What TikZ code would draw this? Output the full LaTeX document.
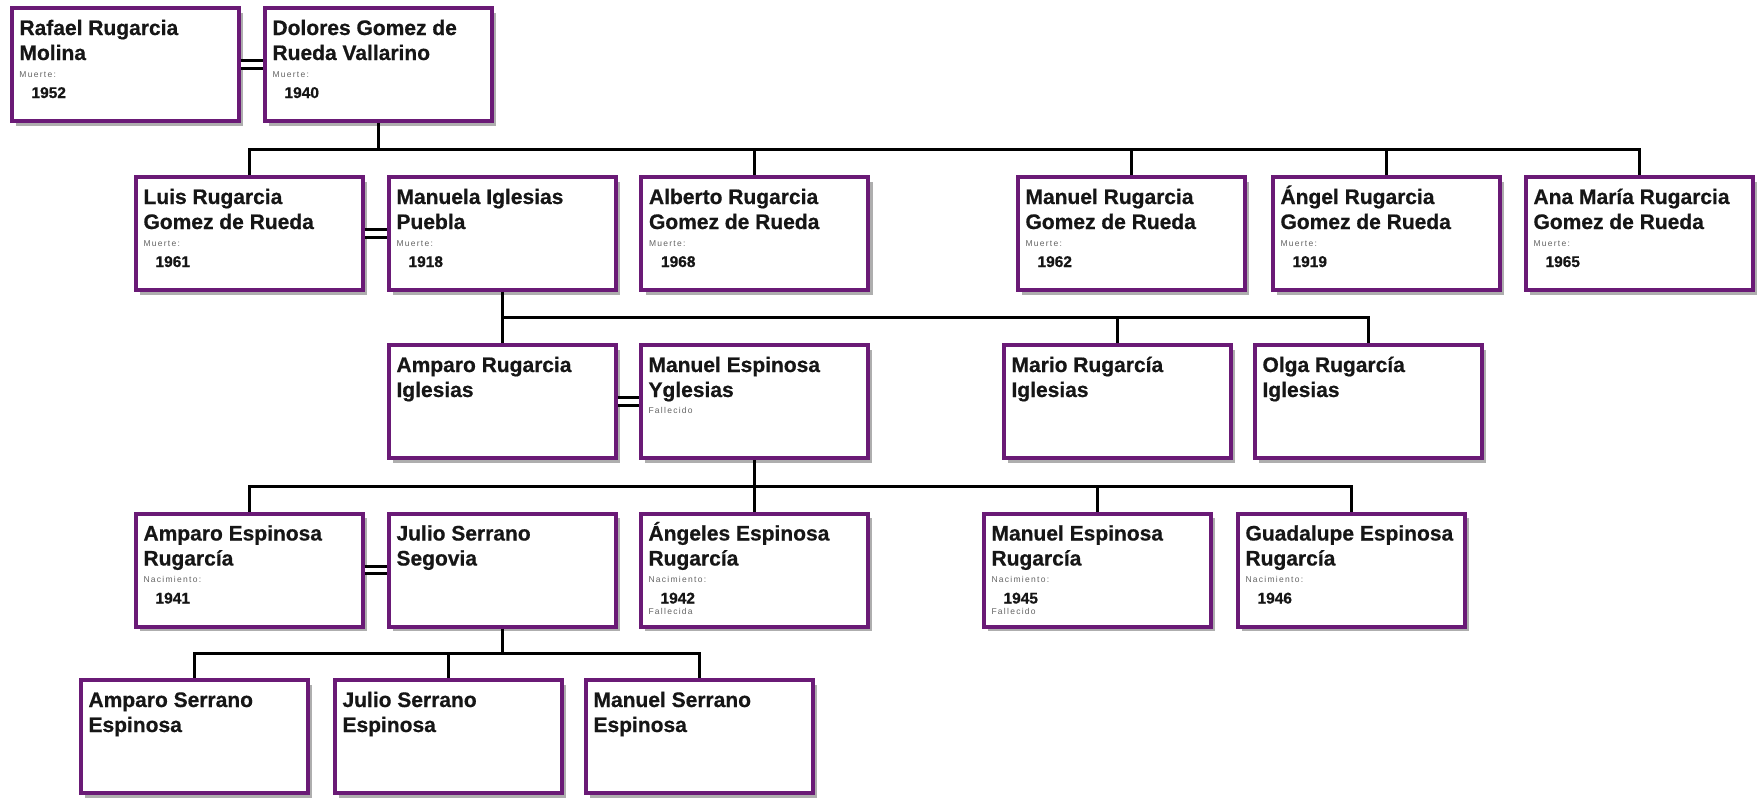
\documentclass[tikz,border=0pt]{standalone}
\usepackage{fontspec}
\setmainfont{Liberation Sans}
\newfontfamily\etiqfont[LetterSpace=15]{Liberation Sans}
\newfontfamily\nombrefont[FakeBold=0.6]{Liberation Sans Bold}
\usepackage{xcolor}
\usetikzlibrary{shadows}

\definecolor{borde}{RGB}{106,26,118}
\definecolor{tinta}{RGB}{22,22,22}
\definecolor{gris}{RGB}{100,100,100}

\newcommand{\nombre}{\nombrefont\fontsize{21}{25}\selectfont\color{tinta}}
\newcommand{\etiq}{\etiqfont\fontsize{8.5}{9}\selectfont\color{gris}}
\newcommand{\anio}{\nombrefont\fontsize{15.5}{17}\selectfont\color{tinta}}
\newcommand{\linea}[1]{\hbox to 211pt{\smash{#1}\hss}}
\newcommand{\ficha}[3]{\vbox to 113pt{\offinterlineskip
    \kern27pt\linea{\nombre #1}\kern25pt\linea{\nombre #2}#3\vss}}
\newcommand{\dato}[2]{\kern17pt\linea{\etiq #1}\kern21pt\linea{\hspace{12pt}\anio #2}}
\newcommand{\fallec}[2]{\kern#1\linea{\etiq #2}}

\begin{document}
\begin{tikzpicture}[x=1pt, y=-1pt,
    persona/.style={draw=borde, line width=4pt, fill=white, minimum width=227pt, minimum height=113pt,
        inner xsep=8pt, inner ysep=0pt,
        drop shadow={shadow xshift=4.5pt, shadow yshift=-4.5pt, fill=black!45, opacity=0.7}},
    enlace/.style={line width=3pt, black},
    pareja/.style={double, line width=3.2pt, double distance=4.5pt, black}
]
\path[use as bounding box, fill=white] (0,0) rectangle (1758,798);

\node[persona] (rafael) at (125,64.5) {\ficha{Rafael Rugarcia}{Molina}{\dato{Muerte:}{1952}}};
\node[persona] (dolores) at (378,64.5) {\ficha{Dolores Gomez de}{Rueda Vallarino}{\dato{Muerte:}{1940}}};

\node[persona] (luis) at (249,233.5) {\ficha{Luis Rugarcia}{Gomez de Rueda}{\dato{Muerte:}{1961}}};
\node[persona] (manuela) at (502,233.5) {\ficha{Manuela Iglesias}{Puebla}{\dato{Muerte:}{1918}}};
\node[persona] (alberto) at (754.5,233.5) {\ficha{Alberto Rugarcia}{Gomez de Rueda}{\dato{Muerte:}{1968}}};
\node[persona] (manuel) at (1131,233.5) {\ficha{Manuel Rugarcia}{Gomez de Rueda}{\dato{Muerte:}{1962}}};
\node[persona] (angel) at (1386,233.5) {\ficha{Ángel Rugarcia}{Gomez de Rueda}{\dato{Muerte:}{1919}}};
\node[persona] (anamaria) at (1639,233.5) {\ficha{Ana María Rugarcia}{Gomez de Rueda}{\dato{Muerte:}{1965}}};

\node[persona] (amparo) at (502,401.5) {\ficha{Amparo Rugarcia}{Iglesias}{}};
\node[persona] (espinosa) at (754,401.5) {\ficha{Manuel Espinosa}{Yglesias}{\fallec{16pt}{Fallecido}}};
\node[persona] (mario) at (1117,401.5) {\ficha{Mario Rugarcía}{Iglesias}{}};
\node[persona] (olga) at (1368,401.5) {\ficha{Olga Rugarcía}{Iglesias}{}};

\node[persona] (amparoesp) at (249,570) {\ficha{Amparo Espinosa}{Rugarcía}{\dato{Nacimiento:}{1941}}};
\node[persona] (julio) at (502,570) {\ficha{Julio Serrano}{Segovia}{}};
\node[persona] (angeles) at (754,570) {\ficha{Ángeles Espinosa}{Rugarcía}{\dato{Nacimiento:}{1942}\fallec{11pt}{Fallecida}}};
\node[persona] (manuelesp) at (1097,570) {\ficha{Manuel Espinosa}{Rugarcía}{\dato{Nacimiento:}{1945}\fallec{11pt}{Fallecido}}};
\node[persona] (guadalupe) at (1351,570) {\ficha{Guadalupe Espinosa}{Rugarcía}{\dato{Nacimiento:}{1946}}};

\node[persona] (amparoser) at (194,736.5) {\ficha{Amparo Serrano}{Espinosa}{}};
\node[persona] (julioser) at (448,736.5) {\ficha{Julio Serrano}{Espinosa}{}};
\node[persona] (manuelser) at (699,736.5) {\ficha{Manuel Serrano}{Espinosa}{}};

\coordinate (bus1) at (0,149);
\coordinate (bus2) at (0,317.5);
\coordinate (bus3) at (0,486);
\coordinate (bus4) at (0,653);

\draw[pareja] (rafael.east) -- (dolores.west);
\draw[pareja] (luis.east) -- (manuela.west);
\draw[pareja] (amparo.east) -- (espinosa.west);
\draw[pareja] (amparoesp.east) -- (julio.west);

\draw[enlace] (dolores.south) -- (dolores.south |- bus1);
\draw[enlace] (luis.north) -- (luis.north |- bus1) -- (anamaria.north |- bus1) -- (anamaria.north);
\foreach \h in {alberto, manuel, angel}
    \draw[enlace] (\h.north) -- (\h.north |- bus1);

\draw[enlace] (manuela.south) -- (manuela.south |- bus2);
\draw[enlace] (amparo.north) -- (amparo.north |- bus2) -- (olga.north |- bus2) -- (olga.north);
\draw[enlace] (mario.north) -- (mario.north |- bus2);

\draw[enlace] (espinosa.south) -- (espinosa.south |- bus3);
\draw[enlace] (amparoesp.north) -- (amparoesp.north |- bus3) -- (guadalupe.north |- bus3) -- (guadalupe.north);
\foreach \h in {angeles, manuelesp}
    \draw[enlace] (\h.north) -- (\h.north |- bus3);

\draw[enlace] (julio.south) -- (julio.south |- bus4);
\draw[enlace] (amparoser.north) -- (amparoser.north |- bus4) -- (manuelser.north |- bus4) -- (manuelser.north);
\draw[enlace] (julioser.north) -- (julioser.north |- bus4);

\end{tikzpicture}
\end{document}
